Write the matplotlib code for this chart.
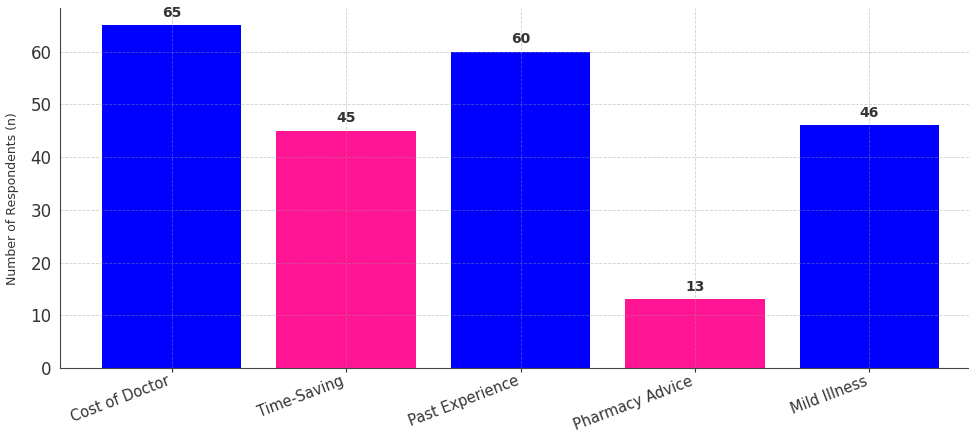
import matplotlib
matplotlib.use("Agg")
import matplotlib.pyplot as plt
import matplotlib.transforms as mtransforms

reasons = ["Cost of Doctor", "Time-Saving", "Past Experience", "Pharmacy Advice", "Mild Illness"]
respondents = [65, 45, 60, 13, 46]
bar_colors = ["#0000ff", "#ff1493", "#0000ff", "#ff1493", "#0000ff"]

fig = plt.figure(figsize=(9.7, 4.36), dpi=100)
ax = fig.add_axes([60 / 970, 68 / 436, 921 / 970, 360 / 436])

bars = ax.bar(reasons, respondents, color=bar_colors, width=0.8)
for bar, val in zip(bars, respondents):
    ax.text(bar.get_x() + bar.get_width() / 2, val + 1.0, str(val),
            ha="center", va="bottom", fontsize=10, fontweight="bold", color="#333333")

ax.set_ylim(0, 68.25)
ax.set_xlim(-0.64, 4.64)
ax.set_ylabel("Number of Respondents (n)", fontsize=9, color="#333333", labelpad=10)
ax.yaxis.set_label_coords(-0.045, 0.47)
ax.grid(True, linestyle="--", color="#999999", alpha=0.45, linewidth=0.6)
ax.tick_params(axis="y", labelsize=12, colors="#333333", length=0, pad=6)
ax.tick_params(axis="x", labelsize=10.5, colors="#333333", length=3, pad=1)

# nudge the slanted category labels a little left so they end under their tick
shift = mtransforms.ScaledTranslation(-5 / 100, 0, fig.dpi_scale_trans)
for label in ax.get_xticklabels():
    label.set_rotation(21)
    label.set_ha("right")
    label.set_rotation_mode("anchor")
    label.set_transform(label.get_transform() + shift)

for side in ["top", "right"]:
    ax.spines[side].set_visible(False)
for side in ["left", "bottom"]:
    ax.spines[side].set_color("#444444")

fig.savefig("out.png", dpi=100)
